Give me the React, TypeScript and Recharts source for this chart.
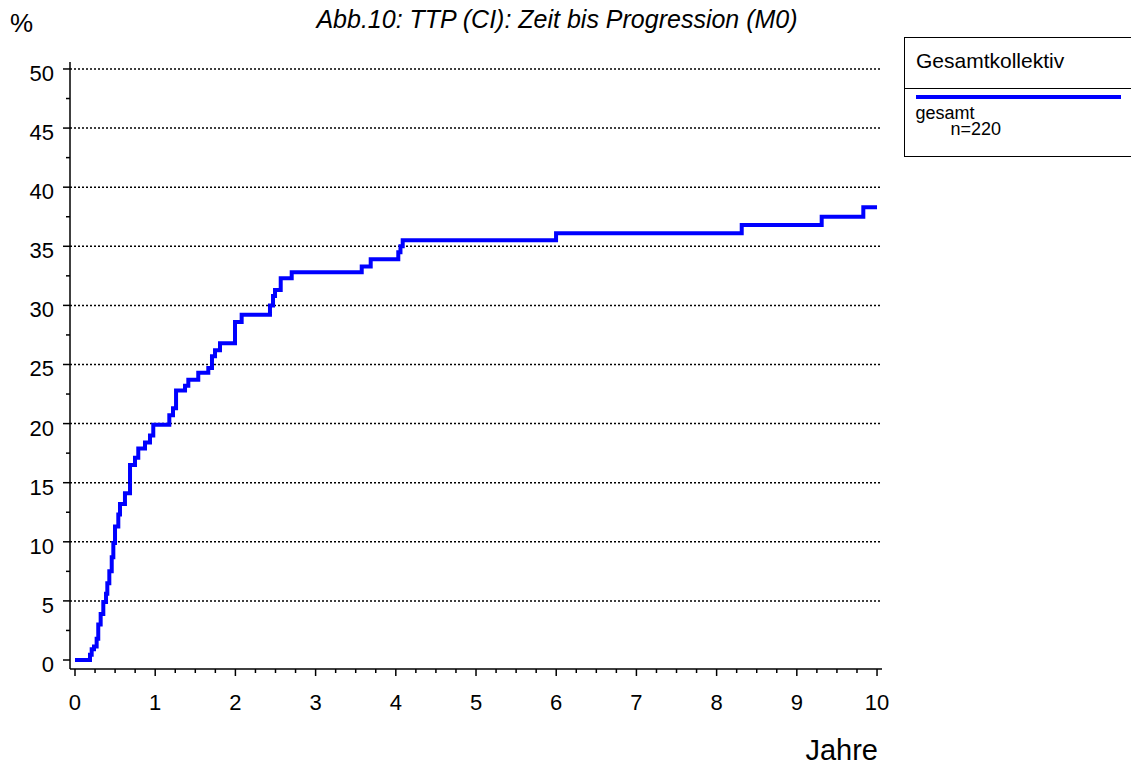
import React from 'react';
import { LineChart, Line, XAxis, YAxis, ReferenceLine } from 'recharts';

// Kaplan-Meier style cumulative progression (%)
const YEARS = [
  0, 0.187, 0.208, 0.237, 0.27, 0.29, 0.32, 0.353, 0.387, 0.403, 0.428, 0.458, 0.478, 0.499,
  0.54, 0.561, 0.623, 0.686, 0.748, 0.789, 0.873, 0.935, 0.976, 1.176, 1.222, 1.26, 1.372,
  1.413, 1.537, 1.662, 1.708, 1.746, 1.808, 1.995, 2.078, 2.431, 2.469, 2.494, 2.565, 2.702,
  3.575, 3.687, 4.031, 4.058, 4.086, 5.998, 8.313, 9.31, 9.829, 10.0,
];
const PERCENT = [
  0, 0.45, 0.9, 1.15, 1.8, 3.0, 3.9, 4.9, 5.6, 6.5, 7.5, 8.7, 9.9, 11.3,
  12.3, 13.2, 14.1, 16.5, 17.1, 17.9, 18.4, 19.0, 19.9, 20.7, 21.3, 22.8, 23.2,
  23.7, 24.3, 24.7, 25.7, 26.2, 26.8, 28.6, 29.2, 30.0, 30.8, 31.3, 32.3, 32.8,
  33.3, 33.9, 34.5, 35.0, 35.5, 36.1, 36.8, 37.5, 38.3, 38.3,
];

const X_MAJOR = [0, 1, 2, 3, 4, 5, 6, 7, 8, 9, 10];
const Y_MAJOR = [0, 5, 10, 15, 20, 25, 30, 35, 40, 45, 50];
const GRID_Y = [5, 10, 15, 20, 25, 30, 35, 40, 45, 50];

const X_TICKS = X_MAJOR.flatMap(v => (v < 10 ? [v, v + 0.25, v + 0.5, v + 0.75] : [v]));
const Y_TICKS = Y_MAJOR.flatMap(v => (v < 50 ? [v, v + 2.5] : [v]));

const data = YEARS.map((t, i) => ({ t, p: PERCENT[i] }));

const FONT = '"Liberation Sans", Arial, Helvetica, sans-serif';

const XTick = ({ x, y, payload }: any) => {
  const major = Number.isInteger(payload.value);
  return (
    <g>
      <line x1={x} x2={x} y1={y} y2={y + (major ? 7 : 4)} stroke="#000" strokeWidth={1.5} />
      {major && (
        <text x={x} y={y + 41} textAnchor="middle" fontSize={22} fontFamily={FONT} fill="#000">
          {payload.value}
        </text>
      )}
    </g>
  );
};

const YTick = ({ x, y, payload }: any) => {
  const major = payload.value % 5 === 0;
  return (
    <g>
      <line x1={x - (major ? 7 : 4)} x2={x} y1={y} y2={y} stroke="#000" strokeWidth={1.5} />
      {major && (
        <text x={x - 16} y={y + 12} textAnchor="end" fontSize={22} fontFamily={FONT} fill="#000">
          {payload.value}
        </text>
      )}
    </g>
  );
};

export default function App() {
  return (
    <div style={{ position: 'absolute', left: 0, top: 0, width: 1131, height: 765, background: '#fff', fontFamily: FONT, overflow: 'hidden' }}>
      <div style={{ position: 'absolute', left: 0, width: 1114, top: 7, lineHeight: '25px', textAlign: 'center', fontSize: 25, fontStyle: 'italic', color: '#000' }}>
        Abb.10: TTP (CI): Zeit bis Progression (M0)
      </div>
      <div style={{ position: 'absolute', left: 10, top: 10, lineHeight: '26px', fontSize: 26, color: '#000' }}>%</div>
      <div style={{ position: 'absolute', right: 253, top: 736, lineHeight: '29px', fontSize: 29, color: '#000' }}>Jahre</div>

      {/* legend box */}
      <div style={{ position: 'absolute', left: 904, top: 37, width: 240, height: 120, border: '1.5px solid #000', boxSizing: 'border-box' }}>
        <div style={{ position: 'absolute', left: 11, top: 12, lineHeight: '21px', fontSize: 21, color: '#000' }}>Gesamtkollektiv</div>
        <div style={{ position: 'absolute', left: 0, right: 0, top: 50, borderTop: '1.5px solid #000' }} />
        <div style={{ position: 'absolute', left: 10.5, width: 205, top: 57, height: 4, background: '#0000ff' }} />
        <div style={{ position: 'absolute', left: 10.5, top: 67, fontSize: 18, lineHeight: '16px', color: '#000' }}>
          gesamt
          <div style={{ paddingLeft: 35 }}>n=220</div>
        </div>
      </div>

      <LineChart width={1131} height={765} data={data} margin={{ top: 62, right: 249, bottom: 56, left: 10 }}>
        {GRID_Y.map(v => (
          <ReferenceLine key={v} y={v} stroke="#000" strokeWidth={1.5} strokeDasharray="2 2" />
        ))}
        <XAxis
          dataKey="t"
          type="number"
          domain={[-0.0623, 10.062]}
          allowDataOverflow
          ticks={X_TICKS}
          interval={0}
          tickSize={0}
          tickMargin={0}
          tickLine={false}
          tick={<XTick />}
          axisLine={{ stroke: '#000', strokeWidth: 1.5 }}
          height={40}
        />
        <YAxis
          type="number"
          domain={[-0.761, 50.59]}
          allowDataOverflow
          ticks={Y_TICKS}
          interval={0}
          tickSize={0}
          tickMargin={0}
          tickLine={false}
          tick={<YTick />}
          axisLine={{ stroke: '#000', strokeWidth: 1.5 }}
          width={60}
        />
        <Line type="stepAfter" dataKey="p" stroke="#0000ff" strokeWidth={4} dot={false} isAnimationActive={false} />
      </LineChart>
    </div>
  );
}
